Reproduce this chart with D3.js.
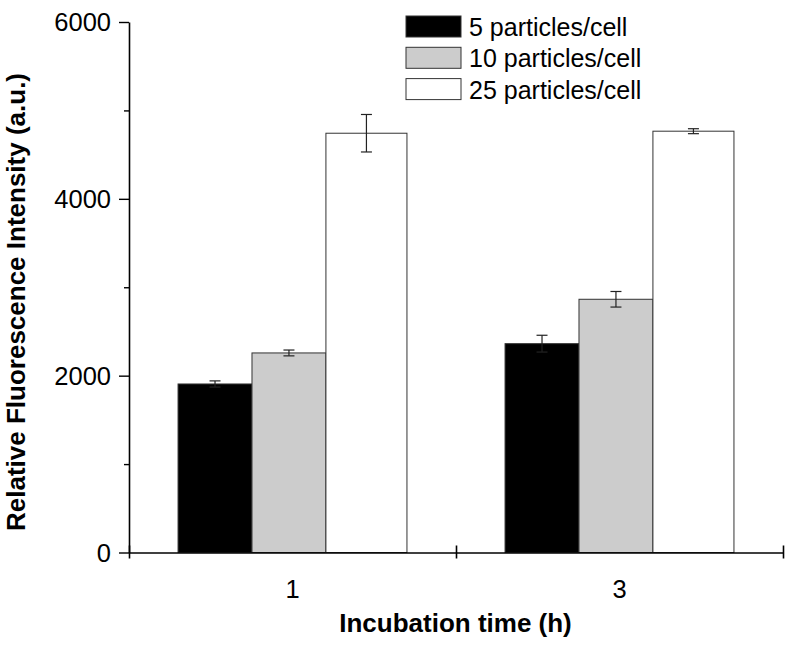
<!DOCTYPE html>
<html><head><meta charset="utf-8">
<script src="https://cdn.jsdelivr.net/npm/d3@7"></script>
<style>body{margin:0;background:#fff}svg{display:block}</style>
</head><body><svg id="c" width="794" height="649"></svg>
<script>
// ---- data ----
const categories = ["1", "3"];
const seriesNames = ["5 particles/cell", "10 particles/cell", "25 particles/cell"];
const values5 = [1906, 2362];
const values10 = [2257, 2864];
const values25 = [4742, 4765];
const err5 = [35, 95];
const err10 = [33, 88];
const err25 = [212, 28];
const yTickValues = [0, 2000, 4000, 6000];
const yMinorTickValues = [1000, 3000, 5000];
const xTitle = "Incubation time (h)";
const yTitle = "Relative Fluorescence Intensity (a.u.)";

(function () {
// ---- layout ----
const svg = d3.select("#c");
const mLeft = 129, mRight = 783, mTop = 22, mBottom = 552.5;
const FONT = "'Liberation Sans', Arial, Helvetica, sans-serif";
const fills = ["#000000", "#cccccc", "#ffffff"];
const series = [
  {name: seriesNames[0], vals: values5, errs: err5},
  {name: seriesNames[1], vals: values10, errs: err10},
  {name: seriesNames[2], vals: values25, errs: err25}
];

const x0 = d3.scaleBand().domain(categories).range([mLeft, mRight]).padding(0);
const y = d3.scaleLinear().domain([0, 6000]).range([mBottom, mTop]);
const groupFrac = 0.70;
const widthFrac = [0.323, 0.323, 0.354];

function barX(ci, si) {
  const bw = x0.bandwidth() * groupFrac;
  const start = x0(categories[ci]) + (x0.bandwidth() - bw) / 2;
  let off = 0;
  for (let k = 0; k < si; k++) off += widthFrac[k] * bw;
  return [start + off, widthFrac[si] * bw];
}

// bars
series.forEach((s, si) => {
  const g = svg.append("g");
  g.selectAll("rect").data(s.vals).join("rect")
    .attr("x", (d, i) => barX(i, si)[0])
    .attr("width", (d, i) => barX(i, si)[1])
    .attr("y", d => y(d))
    .attr("height", d => y(0) - y(d))
    .attr("fill", fills[si])
    .attr("stroke", "#333").attr("stroke-width", 1);
});
// error bars
series.forEach((s, si) => {
  const g = svg.append("g").attr("stroke", "#222").attr("stroke-width", 1.2);
  s.vals.forEach((v, i) => {
    const [bx, bw] = barX(i, si);
    const cx = bx + bw / 2;
    g.append("line").attr("x1", cx).attr("x2", cx).attr("y1", y(v - s.errs[i])).attr("y2", y(v + s.errs[i]));
    g.append("line").attr("x1", cx - 5.5).attr("x2", cx + 5.5).attr("y1", y(v + s.errs[i])).attr("y2", y(v + s.errs[i]));
    g.append("line").attr("x1", cx - 5.5).attr("x2", cx + 5.5).attr("y1", y(v - s.errs[i])).attr("y2", y(v - s.errs[i]));
  });
});

// y axis
const yAxisG = svg.append("g").attr("transform", `translate(${mLeft},0)`)
  .call(d3.axisLeft(y).tickValues(yTickValues).tickSizeInner(10).tickSizeOuter(0).tickPadding(8).tickFormat(d3.format("d")));
yAxisG.select(".domain").attr("stroke", "#000").attr("stroke-width", 1.6);
yAxisG.selectAll(".tick line").attr("stroke", "#000").attr("stroke-width", 1.4);
yAxisG.selectAll(".tick text").attr("font-family", FONT).attr("font-size", 25.5).attr("fill", "#000")
  .attr("dy", "0.35em").attr("x", -18);
const yMinorG = svg.append("g").attr("transform", `translate(${mLeft},0)`)
  .call(d3.axisLeft(y).tickValues(yMinorTickValues).tickSizeInner(5).tickSizeOuter(0).tickFormat(""));
yMinorG.select(".domain").remove();
yMinorG.selectAll(".tick line").attr("stroke", "#000").attr("stroke-width", 1.4);

// x axis (boundary ticks)
const xb = d3.scaleLinear().domain([0, categories.length]).range([mLeft, mRight]);
const xAxisG = svg.append("g").attr("transform", `translate(0,${mBottom})`)
  .call(d3.axisBottom(xb).tickValues(d3.range(categories.length + 1)).tickSizeOuter(0).tickSizeInner(6).tickFormat(""));
xAxisG.select(".domain").attr("stroke", "#000").attr("stroke-width", 1.6);
xAxisG.selectAll(".tick line").attr("stroke", "#000").attr("stroke-width", 1.6).attr("y1", -7).attr("y2", 6);
// category labels
const xLabG = svg.append("g").attr("transform", `translate(0,${mBottom})`)
  .call(d3.axisBottom(x0).tickSize(0).tickPadding(27));
xLabG.select(".domain").remove();
xLabG.selectAll(".tick text").attr("font-family", FONT).attr("font-size", 25.5).attr("fill", "#000")
  .attr("dy", "0.71em");

// titles
svg.append("text").attr("x", 455.5).attr("y", 632)
  .attr("text-anchor", "middle").attr("font-family", FONT).attr("font-weight", "bold")
  .attr("font-size", 26).attr("fill", "#000").text(xTitle);
svg.append("text").attr("transform", `translate(25,302) rotate(-90)`)
  .attr("text-anchor", "middle").attr("font-family", FONT).attr("font-weight", "bold")
  .attr("font-size", 26).attr("fill", "#000").text(yTitle);

// legend
const leg = svg.append("g").attr("transform", "translate(406,16)");
seriesNames.forEach((n, i) => {
  const row = leg.append("g").attr("transform", `translate(0,${i * 31.3})`);
  row.append("rect").attr("width", 55).attr("height", 21).attr("fill", fills[i])
    .attr("stroke", "#333").attr("stroke-width", 1);
  row.append("text").attr("x", 63).attr("y", 20)
    .attr("font-family", FONT).attr("font-size", 25).attr("fill", "#000").text(n);
});
})();
</script></body></html>
